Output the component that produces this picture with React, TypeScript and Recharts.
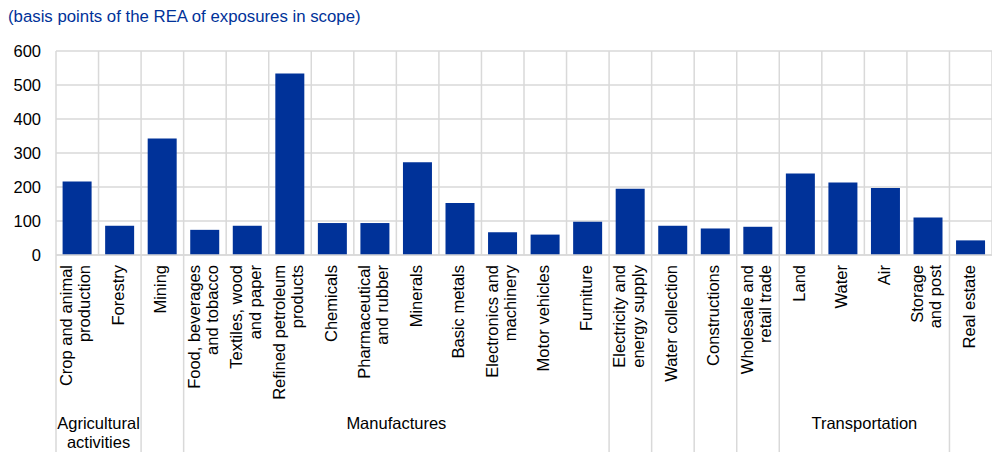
import React from "react";
import { BarChart, Bar, XAxis, YAxis, CartesianGrid } from "recharts";

const CATEGORIES: string[] = [
  "Crop and animal\nproduction",
  "Forestry",
  "Mining",
  "Food, beverages\nand tobacco",
  "Textiles, wood\nand paper",
  "Refined petroleum\nproducts",
  "Chemicals",
  "Pharmaceutical\nand rubber",
  "Minerals",
  "Basic metals",
  "Electronics and\nmachinery",
  "Motor vehicles",
  "Furniture",
  "Electricity and\nenergy supply",
  "Water collection",
  "Constructions",
  "Wholesale and\nretail trade",
  "Land",
  "Water",
  "Air",
  "Storage\nand post",
  "Real estate",
];

const VALUES: number[] = [
  216, 86, 343, 74, 86, 534, 94, 94, 273, 153, 67, 60, 98, 195, 86, 78, 83, 240, 213, 197, 110, 43,
];

const GROUP_NAMES: string[] = [
  "Agricultural\nactivities",
  "",
  "Manufactures",
  "",
  "",
  "",
  "",
  "Transportation",
  "",
];
const GROUP_SIZES: number[] = [2, 1, 10, 1, 1, 1, 1, 4, 1];

const Y_TICKS: number[] = [0, 100, 200, 300, 400, 500, 600];

const TITLE = "(basis points of the REA of exposures in scope)";

const data = CATEGORIES.map((name, i) => ({ name, value: VALUES[i] }));

// group start index -> group index
const groupStarts: Record<number, number> = {};
{
  let acc = 0;
  GROUP_SIZES.forEach((s, g) => {
    groupStarts[acc] = g;
    acc += s;
  });
}

const W = 992;
const H = 461;
const Y_AXIS_W = 56;
const MARGIN = { top: 51, right: 0, bottom: 0, left: 0 };
const X_AXIS_H = 206;
const PLOT_W = W - Y_AXIS_W - MARGIN.left - MARGIN.right;
const STEP = PLOT_W / CATEGORIES.length;
const FONT = "'Liberation Sans', Arial, sans-serif";
const FS = 16.5;
const GRID = "#d9d9d9";
const BLUE = "#003299";

const CategoryTick = (props: any) => {
  const { x, y, payload } = props;
  const idx: number = payload.index;
  const lines = String(payload.value).split("\n");
  const lh = 18.4;
  const n = lines.length;
  const g = groupStarts[idx];
  const left = x - STEP / 2;
  return (
    <g>
      <g transform={`translate(${x},${y + 10}) rotate(-90)`}>
        <text textAnchor="end" fontSize={FS} fontFamily={FONT} fill="#000">
          {lines.map((l, i) => (
            <tspan key={i} x={0} y={4 + (i - (n - 1) / 2) * lh}>
              {l}
            </tspan>
          ))}
        </text>
      </g>
      {g !== undefined && (
        <line x1={left} x2={left} y1={y} y2={452} stroke={GRID} strokeWidth={1.5} />
      )}
      {g !== undefined && GROUP_NAMES[g] !== "" && (
        <text textAnchor="middle" fontSize={FS} fontFamily={FONT} fill="#000">
          {GROUP_NAMES[g].split("\n").map((l, i) => (
            <tspan key={i} x={left + (GROUP_SIZES[g] * STEP) / 2} y={429 + i * 19}>
              {l}
            </tspan>
          ))}
        </text>
      )}
    </g>
  );
};

export default function App() {
  return (
    <div style={{ position: "absolute", left: 0, top: 0, width: W, height: H, background: "#fff" }}>
      <div
        style={{
          position: "absolute",
          left: 8,
          top: 8,
          fontFamily: FONT,
          fontSize: 16.8,
          color: BLUE,
          whiteSpace: "nowrap",
          lineHeight: "18px",
        }}
      >
        {TITLE}
      </div>
      <BarChart width={W} height={H} data={data} margin={MARGIN} barCategoryGap="15.5%">
        <CartesianGrid
          stroke={GRID}
          strokeWidth={1.5}
          verticalCoordinatesGenerator={(p: any) => {
            const off = p.offset;
            const n = CATEGORIES.length;
            const out: number[] = [];
            for (let i = 0; i <= n; i++) out.push(off.left + (i * off.width) / n);
            return out;
          }}
        />
        <XAxis
          dataKey="name"
          interval={0}
          height={X_AXIS_H}
          tickLine={false}
          tickSize={0}
          tickMargin={0}
          axisLine={{ stroke: GRID, strokeWidth: 1.5 }}
          tick={<CategoryTick />}
        />
        <YAxis
          width={Y_AXIS_W}
          domain={[0, 600]}
          ticks={Y_TICKS}
          interval={0}
          axisLine={false}
          tickLine={false}
          tickSize={0}
          tickMargin={15}
          tick={{ fontSize: FS, fontFamily: FONT, fill: "#000" }}
        />
        <Bar dataKey="value" fill={BLUE} isAnimationActive={false} />
      </BarChart>
    </div>
  );
}
